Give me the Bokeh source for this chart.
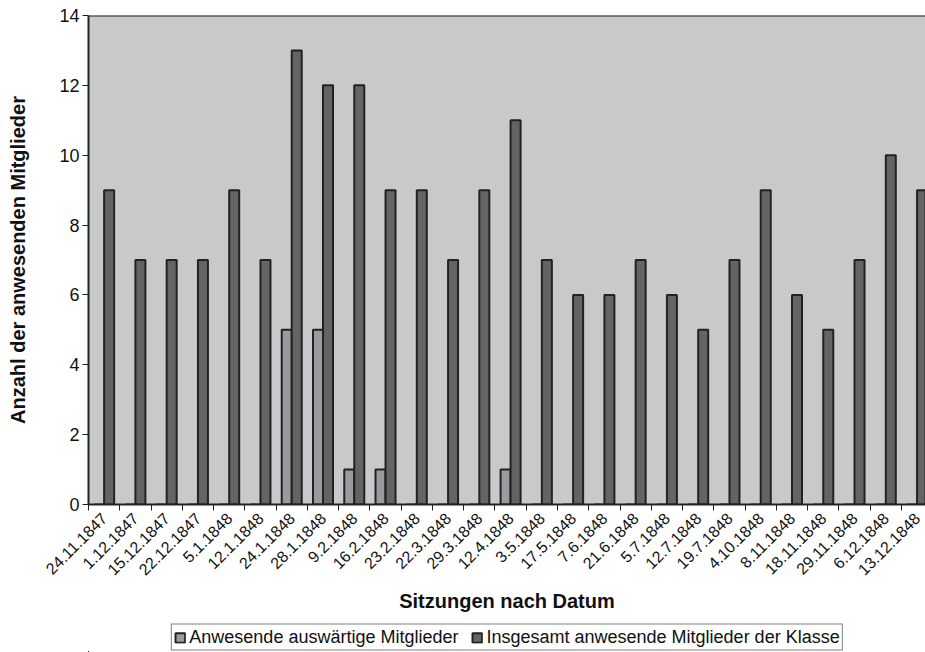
import math
from bokeh.plotting import figure
from bokeh.layouts import column
from bokeh.models import (ColumnDataSource, Range1d, FixedTicker, Legend, LegendItem, Span)
from bokeh.transform import dodge
from bokeh.embed import file_html
from bokeh.resources import INLINE

# ---- data ----
dates = ["24.11.1847", "1.12.1847", "15.12.1847", "22.12.1847", "5.1.1848", "12.1.1848",
         "24.1.1848", "28.1.1848", "9.2.1848", "16.2.1848", "23.2.1848", "22.3.1848",
         "29.3.1848", "12.4.1848", "3.5.1848", "17.5.1848", "7.6.1848", "21.6.1848",
         "5.7.1848", "12.7.1848", "19.7.1848", "4.10.1848", "8.11.1848", "18.11.1848",
         "29.11.1848", "6.12.1848", "13.12.1848"]
auswaertige = [0, 0, 0, 0, 0, 0, 5, 5, 1, 1, 0, 0, 0, 1, 0, 0, 0, 0, 0, 0, 0, 0, 0, 0, 0, 0, 0]
insgesamt = [9, 7, 7, 7, 9, 7, 13, 12, 12, 9, 9, 7, 9, 11, 7, 6, 6, 7, 6, 5, 7, 9, 6, 5, 7, 10, 9]
series_names = ["Anwesende auswärtige Mitglieder", "Insgesamt anwesende Mitglieder der Klasse"]
y_ticks = [0, 2, 4, 6, 8, 10, 12, 14]

n = len(dates)
src = ColumnDataSource(dict(idx=list(range(n)), a=auswaertige, b=insgesamt))

BG = "#c8c9cb"
DARK = "#646464"
LIGHT = "#9a9b9e"
EDGE = "#222222"
TXT = "#111111"
FONT = "Liberation Sans"

p = figure(frame_width=837, frame_height=489, output_backend="svg", toolbar_location=None,
           x_range=Range1d(-0.5, 26.27), y_range=Range1d(0, 14),
           min_border_left=88, min_border_right=0, min_border_top=15, min_border_bottom=118,
           background_fill_color=BG, border_fill_color="white")
p.outline_line_color = None
p.grid.visible = False

bw = 0.32
style1 = dict(fill_color=LIGHT, line_color=EDGE, line_width=2)
style2 = dict(fill_color=DARK, line_color=EDGE, line_width=2)
p.vbar(x=dodge("idx", -0.16, range=p.x_range), top="a", width=bw, source=src, **style1)
p.vbar(x=dodge("idx", 0.16, range=p.x_range), top="b", width=bw, source=src, **style2)

p.add_layout(Span(location=14, dimension="width", line_color=EDGE, line_width=2))

# x axis
xa = p.xaxis[0]
xa.ticker = FixedTicker(ticks=list(range(n)), minor_ticks=[i - 0.5 for i in range(n + 1)])
xa.major_label_overrides = {i: d for i, d in enumerate(dates)}
xa.major_label_orientation = math.pi / 4
xa.major_tick_out = 0
xa.major_tick_in = 0
xa.minor_tick_out = 6
xa.minor_tick_in = 0
xa.minor_tick_line_color = EDGE
xa.axis_line_color = EDGE
xa.axis_line_width = 2
xa.major_label_text_font = FONT
xa.major_label_text_font_size = "16px"
xa.major_label_text_color = TXT
xa.major_label_standoff = 5
xa.axis_label = "Sitzungen nach Datum"
xa.axis_label_text_font = FONT
xa.axis_label_text_font_style = "bold"
xa.axis_label_text_font_size = "20px"
xa.axis_label_text_color = TXT
xa.axis_label_standoff = 6

# y axis
ya = p.yaxis[0]
ya.ticker = FixedTicker(ticks=y_ticks)
ya.major_tick_out = 6
ya.major_tick_in = 0
ya.minor_tick_out = 0
ya.minor_tick_in = 0
ya.major_tick_line_color = EDGE
ya.axis_line_color = EDGE
ya.axis_line_width = 2
ya.major_label_text_font = FONT
ya.major_label_text_font_size = "18px"
ya.major_label_text_color = TXT
ya.major_label_standoff = 3
ya.axis_label = "Anzahl der anwesenden Mitglieder"
ya.axis_label_text_font = FONT
ya.axis_label_text_font_style = "bold"
ya.axis_label_text_font_size = "20px"
ya.axis_label_text_color = TXT
ya.axis_label_standoff = 27

# legend strip (separate figure so the legend is not clipped);
# its renderers use the same data but lie outside this strip's visible range
lg = figure(frame_width=837, frame_height=30, output_backend="svg", toolbar_location=None,
            x_range=Range1d(100, 101), y_range=Range1d(100, 101),
            x_axis_location=None, y_axis_location=None,
            min_border_left=88, min_border_right=0, min_border_top=0, min_border_bottom=0,
            background_fill_color="white", border_fill_color="white")
lg.grid.visible = False
lg.outline_line_color = None
l1 = lg.vbar(x="idx", top="a", width=bw, source=src, **style1)
l2 = lg.vbar(x="idx", top="b", width=bw, source=src, **style2)

legend = Legend(items=[LegendItem(label=series_names[0], renderers=[l1], index=0),
                       LegendItem(label=series_names[1], renderers=[l2], index=0)],
                location="center", orientation="horizontal")
legend.label_text_font = FONT
legend.label_text_font_size = "18px"
legend.label_text_color = TXT
legend.label_height = 18
legend.glyph_width = 12
legend.glyph_height = 12
legend.label_standoff = 4
legend.spacing = 12
legend.padding = 2
legend.margin = 0
legend.border_line_color = "black"
legend.border_line_width = 1
legend.background_fill_color = "white"
legend.background_fill_alpha = 1
lg.add_layout(legend, "center")

layout = column(p, lg, spacing=0)
open("out.html", "w").write(file_html(layout, INLINE))
